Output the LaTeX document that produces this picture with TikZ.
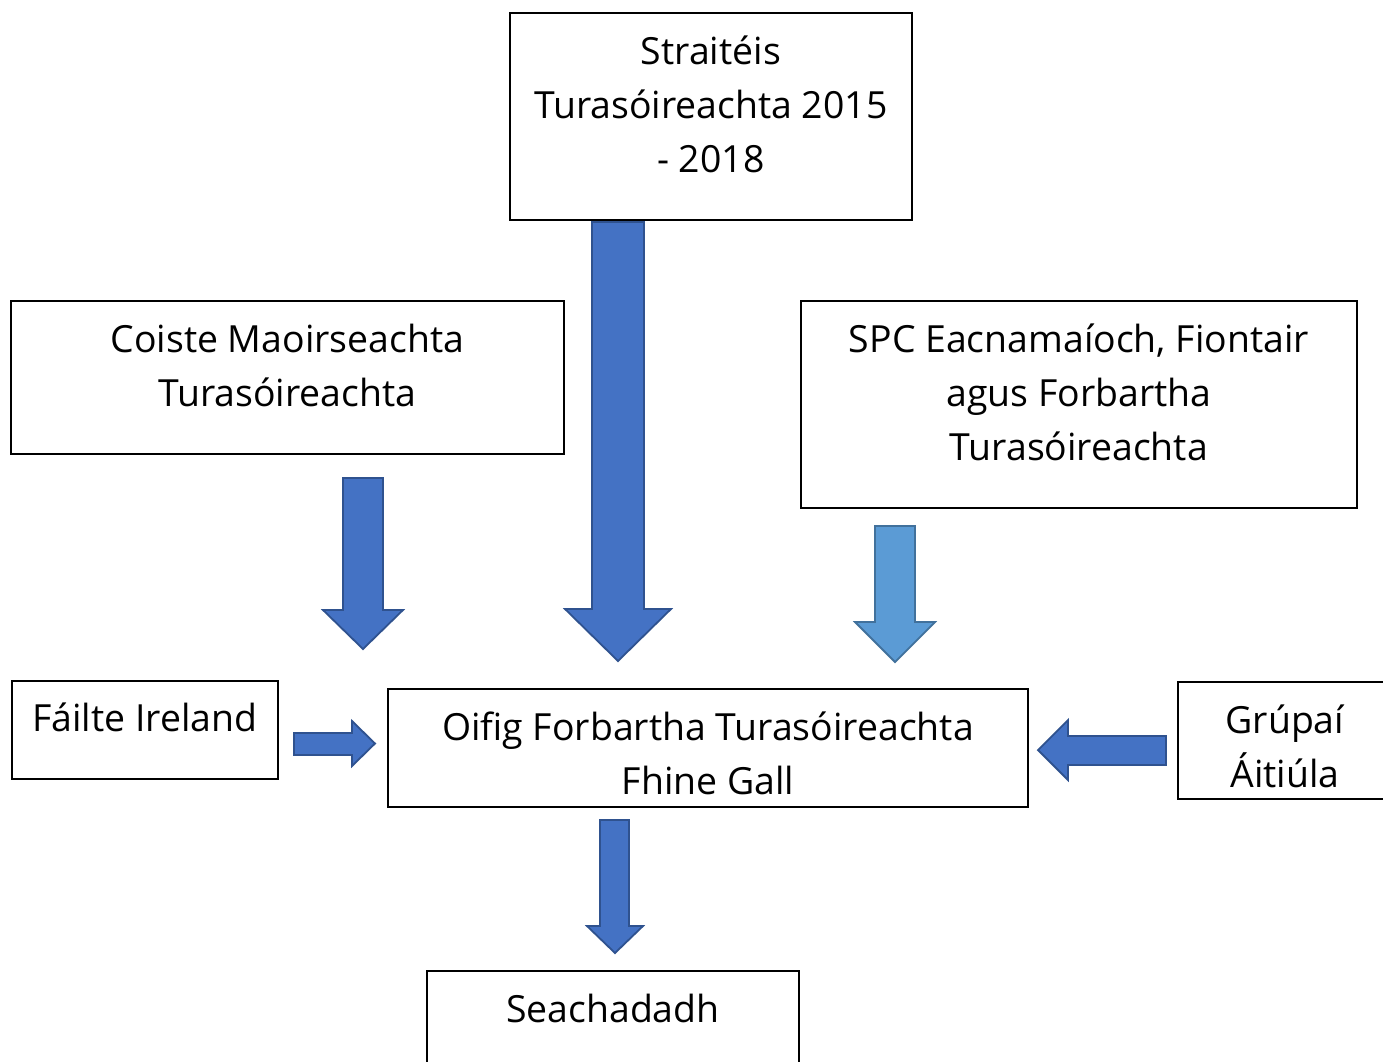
\documentclass[tikz,border=0pt]{standalone}
\usepackage{fontspec}
\setmainfont{Open Sans}
\definecolor{arrfill}{HTML}{4472C4}
\definecolor{arrline}{HTML}{2F528F}
\definecolor{lightfill}{HTML}{5B9BD5}
\definecolor{lightline}{HTML}{41719C}
\tikzset{
  box/.style={draw=black, line width=1.8pt, fill=white, inner sep=0pt, anchor=north west},
  txt/.style={inner sep=0pt, anchor=base, align=center, font=\fontsize{37.4}{54}\selectfont},
  blockarrow/.style={fill=arrfill, draw=arrline, line width=1.8pt, line join=miter},
  lightarrow/.style={fill=lightfill, draw=lightline, line width=1.8pt, line join=miter}
}
\begin{document}
\begin{tikzpicture}[x=1pt, y=-1pt]
\clip (0,0) rectangle (1383,1061);
\fill[white] (0,0) rectangle (1383,1061);
% boxes
\node[box, minimum width=402pt, minimum height=207pt] (strat) at (509,12) {};
\node[box, minimum width=553pt, minimum height=153pt] (coiste) at (10,300) {};
\node[box, minimum width=556pt, minimum height=207pt] (spc) at (800,300) {};
\node[box, minimum width=266pt, minimum height=98pt] (failte) at (11,680) {};
\node[box, minimum width=640pt, minimum height=118pt] (oifig) at (387,688) {};
\node[box, minimum width=214pt, minimum height=117pt] (grupai) at (1177,681) {};
\node[box, minimum width=372pt, minimum height=130pt] (seach) at (426,970) {};
% texts (base anchor = baseline of the last line)
\node[txt] (stratT) at ([yshift=-160pt]strat.north) {Straitéis\\Turasóireachta 2015\\- 2018};
\node[txt] (coisteT) at ([yshift=-106pt]coiste.north) {Coiste Maoirseachta\\Turasóireachta};
\node[txt] (spcT) at ([yshift=-160pt]spc.north) {SPC Eacnamaíoch, Fiontair\\agus Forbartha\\Turasóireachta};
\node[txt] (failteT) at ([yshift=-51pt]failte.north) {Fáilte Ireland};
\node[txt] (oifigT) at ([yshift=-106pt]oifig.north) {Oifig Forbartha Turasóireachta\\Fhine Gall};
\node[txt] (grupaiT) at ([yshift=-106pt]grupai.north) {Grúpaí\\Áitiúla};
\node[txt] (seachT) at ([yshift=-52pt]seach.north) {Seachadadh};
% block arrows
\draw[blockarrow] (343,478) -- (383,478) -- (383,610) -- (403,610) -- (363,649) -- (323,610) -- (343,610) -- cycle;
\draw[blockarrow] (592,222) -- (644,222) -- (644,609) -- (671,609) -- (618,661) -- (565,609) -- (592,609) -- cycle;
\draw[lightarrow] (875,526) -- (915,526) -- (915,622) -- (935,622) -- (895,662) -- (855,622) -- (875,622) -- cycle;
\draw[blockarrow] (294,733) -- (352,733) -- (352,721) -- (375,743.5) -- (352,766) -- (352,755) -- (294,755) -- cycle;
\draw[blockarrow] (1166,736) -- (1068,736) -- (1068,720) -- (1038,750) -- (1068,780) -- (1068,765) -- (1166,765) -- cycle;
\draw[blockarrow] (600,820) -- (629,820) -- (629,926) -- (643,926) -- (615,953) -- (587,926) -- (600,926) -- cycle;
\end{tikzpicture}
\end{document}
